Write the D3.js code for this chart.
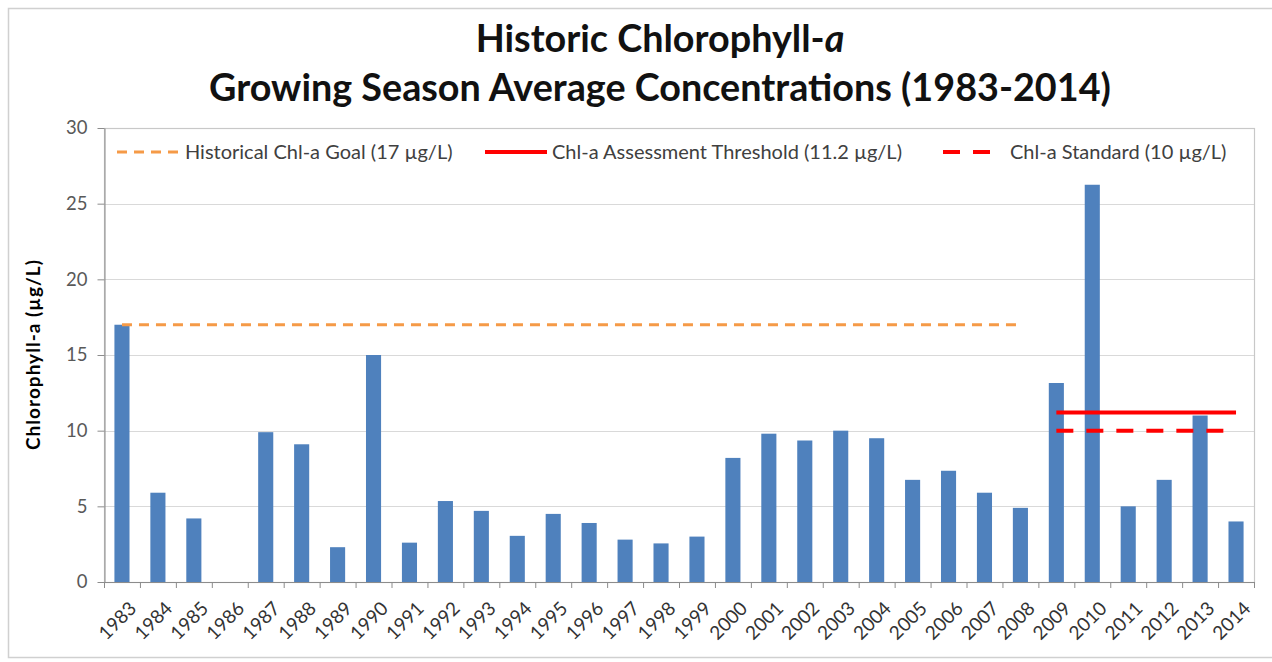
<!DOCTYPE html>
<html>
<head>
<meta charset="utf-8">
<script src="https://d3js.org/d3.v7.min.js"></script>
<style>
  body { margin: 0; background: #fff; }
  text { font-family: Lato, "Open Sans", sans-serif; }
  .grid line { stroke: #d9d9d9; stroke-width: 1px; }
  .axis path, .axis line { stroke: #8c8c8c; }
</style>
</head>
<body>
<script>
// categories
var years = ["1983","1984","1985","1986","1987","1988","1989","1990","1991","1992","1993",
             "1994","1995","1996","1997","1998","1999","2000","2001","2002","2003","2004",
             "2005","2006","2007","2008","2009","2010","2011","2012","2013","2014"];
// growing season average chlorophyll-a (ug/L), 1986 has no bar
var chla = [17.0, 5.9, 4.2, null, 9.9, 9.1, 2.3, 15.0, 2.6, 5.35, 4.7,
            3.05, 4.5, 3.9, 2.8, 2.55, 3.0, 8.2, 9.8, 9.35, 10.0, 9.5,
            6.75, 7.35, 5.9, 4.9, 13.15, 26.25, 5.0, 6.75, 11.0, 4.0];
// reference lines
var refNames  = ["Historical Chl-a Goal (17 µg/L)", "Chl-a Assessment Threshold (11.2 µg/L)", "Chl-a Standard (10 µg/L)"];
var refValues = [17, 11.2, 10];
var refFrom   = ["1983", "2009", "2009"];
var refTo     = ["2008", "2014", "2014"];
var yTicks = [0, 5, 10, 15, 20, 25, 30];

var refStyle = [
  { color: "#f59a47", width: 3, dash: "10,7" },
  { color: "#ff0000", width: 4, dash: null },
  { color: "#ff0000", width: 4, dash: "17,13" }
];

var W = 1272, H = 662;
var pLeft = 104, pRight = 1254, pTop = 128, pBottom = 582;

var svg = d3.select("body").append("svg").attr("width", W).attr("height", H);

// outer chart border
svg.append("rect").attr("x", 8.5).attr("y", 8.5).attr("width", 1290).attr("height", 649)
  .attr("fill", "#fff").attr("stroke", "#d0d0d0").attr("stroke-width", 1.5);

var x = d3.scaleBand().domain(years).range([pLeft, pRight]).paddingInner(0.58).paddingOuter(0.29);
var xOuter = d3.scaleBand().domain(years).range([pLeft, pRight]);
var y = d3.scaleLinear().domain([0, 30]).range([pBottom, pTop]);

// gridlines
svg.append("g").attr("class", "grid")
  .selectAll("line").data(yTicks.filter(function (d) { return d > 0 && d < 30; }))
  .enter().append("line")
  .attr("x1", pLeft).attr("x2", pRight)
  .attr("y1", function (d) { return Math.round(y(d)) + 0.5; })
  .attr("y2", function (d) { return Math.round(y(d)) + 0.5; });

// plot area border
svg.append("rect").attr("x", pLeft + 0.5).attr("y", pTop + 0.5)
  .attr("width", pRight - pLeft).attr("height", pBottom - pTop)
  .attr("fill", "none").attr("stroke", "#c8c8c8").attr("stroke-width", 1.2);

// bars
svg.append("g").selectAll("rect")
  .data(years.map(function (d, i) { return { year: d, v: chla[i] }; }).filter(function (d) { return d.v != null; }))
  .enter().append("rect")
  .attr("x", function (d) { return x(d.year); })
  .attr("width", x.bandwidth())
  .attr("y", function (d) { return y(d.v); })
  .attr("height", function (d) { return y(0) - y(d.v); })
  .attr("fill", "#4f81bd");

// y axis
var yAxis = svg.append("g").attr("class", "axis")
  .attr("transform", "translate(" + (pLeft + 0.5) + ",0)")
  .call(d3.axisLeft(y).tickValues(yTicks).tickSize(7).tickSizeOuter(0).tickPadding(10));
yAxis.selectAll("text").attr("font-size", 18.5).attr("fill", "#595959");

// x axis: ticks at category boundaries
var xg = svg.append("g").attr("class", "axis");
xg.append("line").attr("x1", pLeft).attr("x2", pRight)
  .attr("y1", pBottom + 0.5).attr("y2", pBottom + 0.5).attr("stroke", "#8c8c8c");
xg.selectAll("line.tk").data(years.concat(["end"])).enter().append("line").attr("class", "tk")
  .attr("x1", function (d, i) { return pLeft + 0.5 + i * xOuter.step(); })
  .attr("x2", function (d, i) { return pLeft + 0.5 + i * xOuter.step(); })
  .attr("y1", pBottom).attr("y2", pBottom + 6).attr("stroke", "#8c8c8c");
xg.selectAll("text").data(years).enter().append("text")
  .attr("transform", function (d) {
    return "translate(" + (x(d) + x.bandwidth() / 2 + 11) + "," + (pBottom + 23) + ") rotate(-45)";
  })
  .attr("text-anchor", "end").attr("dy", "0.35em")
  .attr("font-size", 19).attr("fill", "#333")
  .text(function (d) { return d; });

// reference lines (drawn over bars)
var line = d3.line().x(function (d) { return d[0]; }).y(function (d) { return d[1]; });
refNames.forEach(function (n, i) {
  var pts = [[x(refFrom[i]) + x.bandwidth() / 2, y(refValues[i])],
             [x(refTo[i]) + x.bandwidth() / 2, y(refValues[i])]];
  svg.append("path").attr("d", line(pts))
    .attr("fill", "none").attr("stroke", refStyle[i].color)
    .attr("stroke-width", refStyle[i].width)
    .attr("stroke-dasharray", refStyle[i].dash);
});

// legend
var legX = [[117, 180, 185], [485, 547, 552], [943, 992, 1010]];
var legY = 152;
refNames.forEach(function (n, i) {
  svg.append("line").attr("x1", legX[i][0]).attr("x2", legX[i][1])
    .attr("y1", legY).attr("y2", legY)
    .attr("stroke", refStyle[i].color).attr("stroke-width", refStyle[i].width)
    .attr("stroke-dasharray", refStyle[i].dash);
  svg.append("text").attr("x", legX[i][2]).attr("y", legY).attr("dy", "0.35em")
    .attr("font-size", 20).attr("fill", "#404040").text(n);
});

// y axis title
svg.append("text")
  .attr("transform", "translate(33," + ((pTop + pBottom) / 2) + ") rotate(-90)")
  .attr("text-anchor", "middle").attr("dy", "0.35em")
  .attr("font-size", 19).attr("font-weight", "bold").attr("fill", "#000")
  .attr("textLength", 190).attr("lengthAdjust", "spacing")
  .text("Chlorophyll-a (µg/L)");

// title
var t1 = svg.append("text").attr("x", 660).attr("y", 52).attr("text-anchor", "middle")
  .attr("font-size", 34).attr("font-weight", "bold").attr("fill", "#111");
t1.append("tspan").text("Historic Chlorophyll-");
t1.append("tspan").attr("font-style", "italic").text("a");
var t2 = svg.append("text").attr("x", 660).attr("y", 101).attr("text-anchor", "middle")
  .attr("font-size", 34).attr("font-weight", "bold").attr("fill", "#111")
  .text("Growing Season Average Concentrations (1983-2014)");
// fit second line to its width in the reference (~902px), same size for both lines
var fs = 34 * 902 / t2.node().getComputedTextLength();
t1.attr("font-size", fs);
t2.attr("font-size", fs);
</script>
</body>
</html>
